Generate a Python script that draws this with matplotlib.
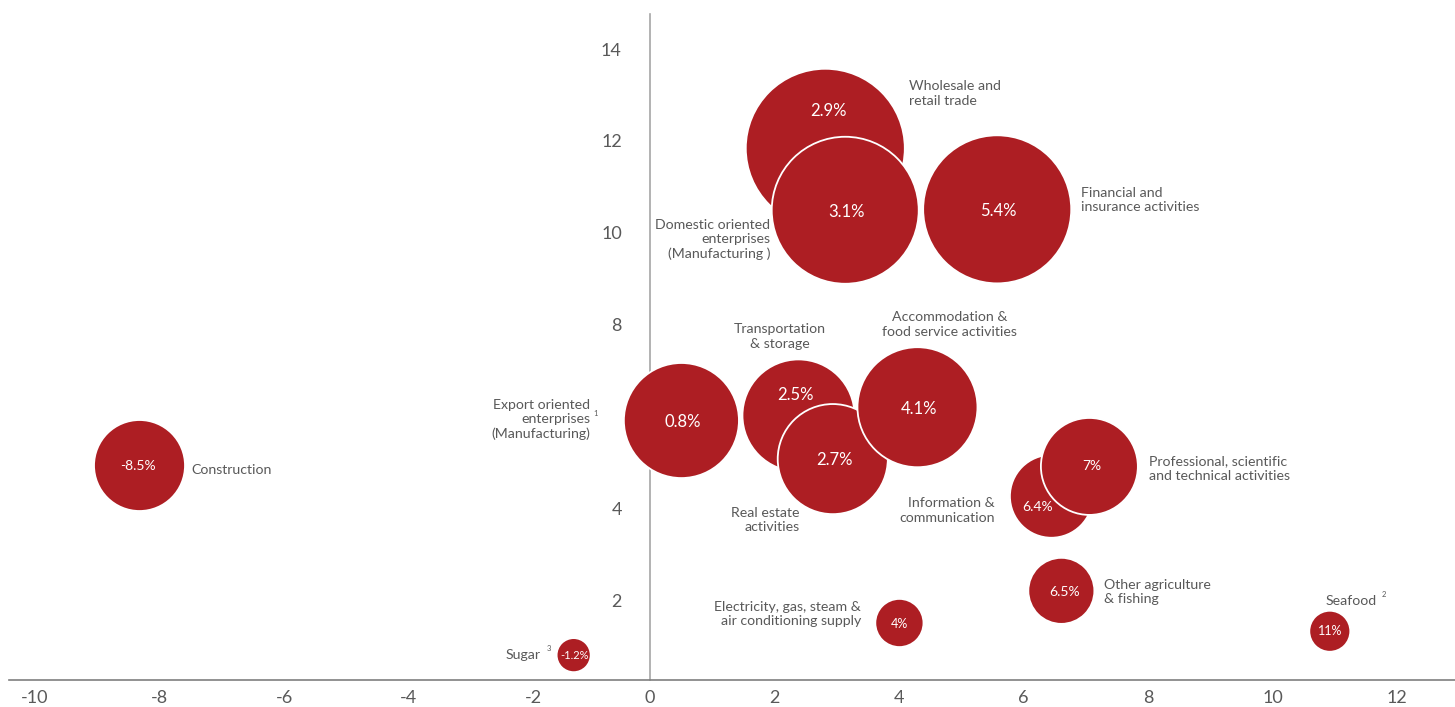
import matplotlib.pyplot as plt
import matplotlib.transforms as mtransforms
import numpy as np

# Sector bubbles: x = position on horizontal axis, y = vertical axis, weight = bubble area
sectors = ['Construction', 'Sugar', 'Export oriented', 'Transportation', 'Real estate',
           'Accommodation', 'Wholesale', 'Domestic oriented', 'Financial',
           'Information', 'Professional', 'Other agriculture', 'Electricity', 'Seafood']
x_vals = [-8.19, -1.22, 0.51, 2.39, 2.94, 4.30, 2.82, 3.14, 5.58, 6.45, 7.06, 6.61, 4.01, 10.92]
y_vals = [4.93, 0.80, 5.91, 6.02, 5.07, 6.20, 11.84, 10.49, 10.51, 4.26, 4.91, 2.20, 1.50, 1.32]
weights = [20.7, 2.9, 33.1, 31.4, 30.3, 36.0, 63.2, 54.0, 54.8, 17.2, 23.5, 10.9, 5.8, 4.2]
growth = ['-8.5%', '-1.2%', '0.8%', '2.5%', '2.7%', '4.1%', '2.9%', '3.1%', '5.4%',
          '6.4%', '7%', '6.5%', '4%', '11%']

xticks = [-10, -8, -6, -4, -2, 0, 2, 4, 6, 8, 10, 12]
yticks = [2, 4, 6, 8, 10, 12, 14]
ytick_labels = ['2', '4', '', '8', '10', '12', '14']

red = '#AD1E23'
grey = '#595959'
font = 'Lato'

fig = plt.figure(figsize=(14.55, 7.07), dpi=100)
ax = fig.add_axes([0, 0, 1, 1])

ax.scatter(x_vals, y_vals, s=np.array(weights) * 207.4, c=red,
           edgecolors='white', linewidths=1.3, zorder=3)

# percentage text inside bubbles (offsets in points, fontsize)
inner = {'Wholesale': (2, 27, 12), 'Transportation': (-2, 15, 12), 'Information': (-10, -8, 10),
         'Construction': (-1, 0, 10), 'Professional': (2, 0, 10), 'Other agriculture': (2, -1, 10),
         'Sugar': (1, 0, 8), 'Electricity': (0, -1, 9), 'Seafood': (0, 0, 9)}
for i, name in enumerate(sectors):
    dx, dy, fs = inner.get(name, (1, -1, 12))
    ax.annotate(growth[i], (x_vals[i], y_vals[i]), xytext=(dx, dy), textcoords='offset points',
                ha='center', va='center', color='white', fontsize=fs, family=font, zorder=4)

# category labels: text, x, y, horizontal alignment, footnote
labels = [
    ('Wholesale and\nretail trade', 4.17, 13.03, 'left', None),
    ('Financial and\ninsurance activities', 6.92, 10.71, 'left', None),
    ('Domestic oriented\nenterprises\n(Manufacturing )', 1.94, 9.85, 'right', None),
    ('Transportation\n& storage', 2.09, 7.74, 'center', None),
    ('Accommodation &\nfood service activities', 4.82, 8.0, 'center', None),
    ('Export oriented\nenterprises\n(Manufacturing)', -0.95, 5.93, 'right', None),
    ('Construction', -7.35, 4.83, 'left', None),
    ('Real estate\nactivities', 2.41, 3.74, 'right', None),
    ('Information &\ncommunication', 5.54, 3.95, 'right', None),
    ('Professional, scientific\nand technical activities', 8.01, 4.87, 'left', None),
    ('Other agriculture\n& fishing', 7.29, 2.17, 'left', None),
    ('Seafood', 10.85, 1.98, 'left', '2'),
    ('Electricity, gas, steam &\nair conditioning supply', 3.39, 1.70, 'right', None),
    ('Sugar', -1.75, 0.80, 'right', '3'),
]
for txt, lx, ly, ha, note in labels:
    t = ax.text(lx, ly, txt, ha=ha, va='center', multialignment=ha, color=grey,
                fontsize=10.2, family=font, linespacing=1.25, zorder=5)
    if note:
        ax.annotate(note, xy=(1, 0.75), xycoords=t, xytext=(4, 0), textcoords='offset points',
                    ha='left', va='bottom', color=grey, fontsize=5.5, family=font)

# footnote on the middle line of the export label
ax.text(-0.87, 6.07, '1', ha='center', va='center', color=grey, fontsize=5.5, family=font)

# axes through origin
ax.set_xlim(-10.43, 12.93)
ax.set_ylim(-0.33, 15.07)
for side in ['top', 'right']:
    ax.spines[side].set_visible(False)
ax.spines['left'].set_position(('data', 0))
ax.spines['left'].set_bounds(0.26, 14.76)
ax.spines['left'].set_color('#A6A6A6')
ax.spines['left'].set_linewidth(1.2)
ax.spines['bottom'].set_position(('data', 0.26))
ax.spines['bottom'].set_bounds(-10.28, 12.93)
ax.spines['bottom'].set_color('#7F7F7F')
ax.spines['bottom'].set_linewidth(1.2)
ax.patch.set_alpha(0)

ax.set_xticks(xticks)
ax.set_xticklabels([str(v) for v in xticks])
ax.set_yticks(yticks)
ax.set_yticklabels(ytick_labels)
ax.tick_params(axis='x', length=0, pad=7, labelsize=13, labelcolor=grey)
ax.tick_params(axis='y', length=0, pad=20, labelsize=13, labelcolor=grey)
for lab in ax.get_xticklabels() + ax.get_yticklabels():
    lab.set_family(font)

# negative labels sit a little right of their ticks in the original
shift = mtransforms.ScaledTranslation(6 / 72, 0, fig.dpi_scale_trans)
for v, lab in zip(xticks, ax.get_xticklabels()):
    if v < 0:
        lab.set_transform(lab.get_transform() + shift)

fig.savefig('out.png', dpi=100)
plt.close()
